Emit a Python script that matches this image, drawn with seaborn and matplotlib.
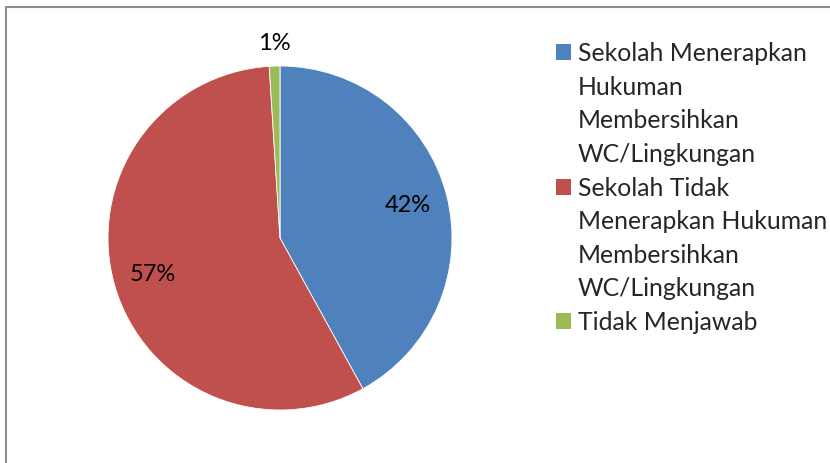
import numpy as np
import seaborn as sns
import matplotlib.pyplot as plt
from matplotlib.patches import Rectangle, Patch

# datos
kategori = ['Sekolah Menerapkan\nHukuman\nMembersihkan\nWC/Lingkungan',
            'Sekolah Tidak\nMenerapkan Hukuman\nMembersihkan\nWC/Lingkungan',
            'Tidak Menjawab']
persen = [42, 57, 1]
warna = ['#4F81BD', '#C0504D', '#9BBB59']

sns.set_theme(style='white')
plt.rcParams['font.family'] = ['Lato', 'DejaVu Sans']

fig = plt.figure(figsize=(8.3, 4.63), dpi=100)

# marco gris (recortado a la derecha y abajo)
fig.patches.append(Rectangle((6 / 830, -0.1), 1.2, 1 - 7 / 463 + 0.1,
                             transform=fig.transFigure, fill=False,
                             edgecolor='#8c8c8c', linewidth=1.5))

ax = fig.add_axes([108 / 830, 53 / 463, 344 / 830, 344 / 463])
wedges, texts, autotexts = ax.pie(persen, colors=warna, startangle=90,
                                  counterclock=False, autopct='%1.0f%%',
                                  pctdistance=0.77,
                                  wedgeprops=dict(linewidth=0.6, edgecolor='white'),
                                  textprops=dict(fontsize=17, color='black'))
ax.set_xlim(-1, 1)
ax.set_ylim(-1, 1)
ax.set_aspect('equal')

# etiqueta pequeña fuera del pastel
w = wedges[2]
ang = np.deg2rad((w.theta1 + w.theta2) / 2)
autotexts[2].set_position((1.13 * np.cos(ang), 1.13 * np.sin(ang)))

# leyenda: una fila por línea, el cuadro solo en la primera
handles, labels = [], []
for nama, c in zip(kategori, warna):
    for i, linea in enumerate(nama.split('\n')):
        if i == 0:
            handles.append(Patch(facecolor=c, edgecolor='none'))
        else:
            handles.append(Patch(facecolor='none', edgecolor='none'))
        labels.append(linea)

leg = fig.legend(handles, labels, loc='upper left',
                 bbox_to_anchor=(556 / 830, 1 - 42 / 463), frameon=False,
                 fontsize=17.8, handlelength=0.62, handleheight=0.6,
                 handletextpad=0.26, labelspacing=0.43,
                 borderpad=0, borderaxespad=0)

fig.savefig('out.png', dpi=100)
